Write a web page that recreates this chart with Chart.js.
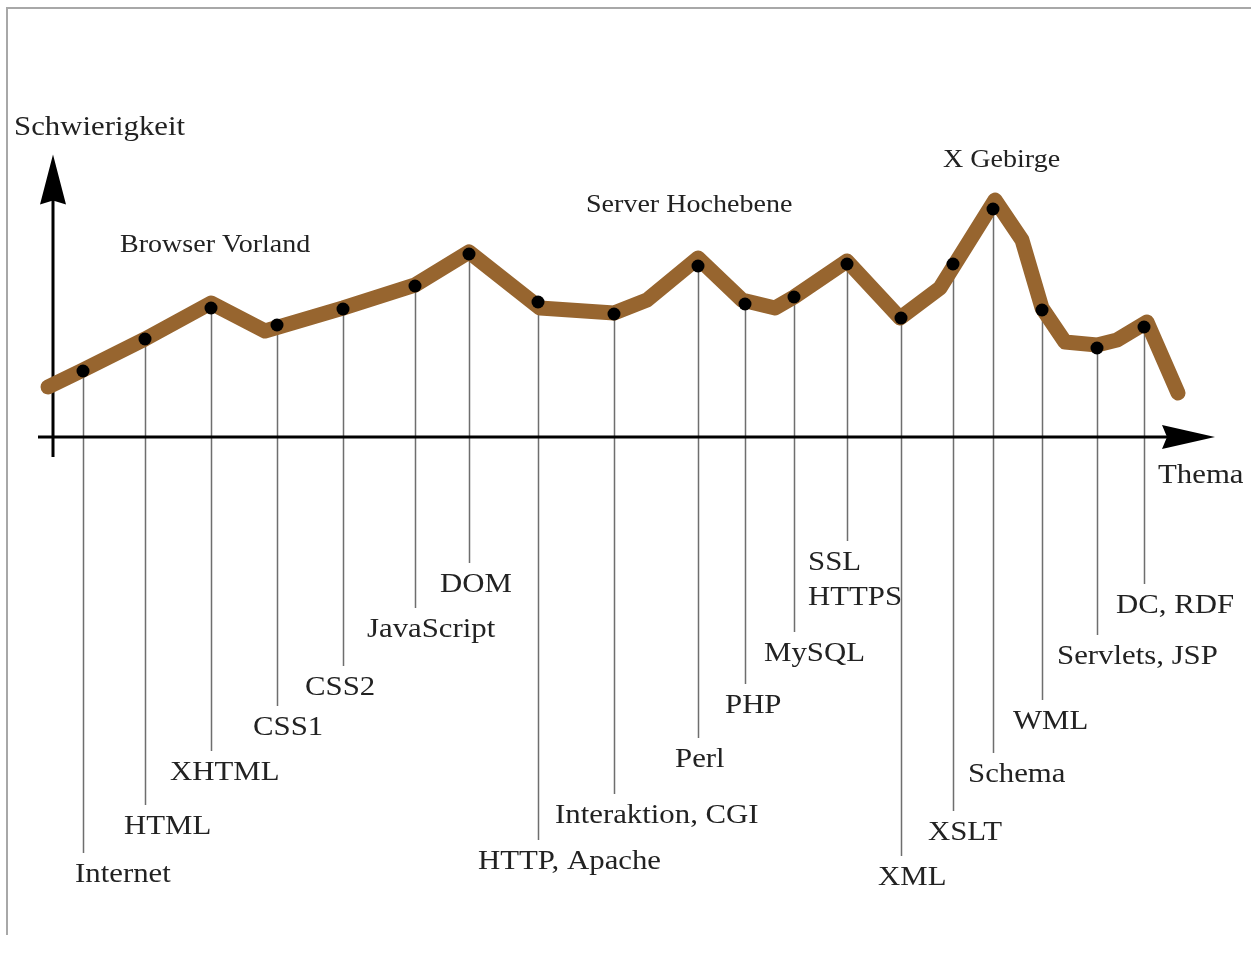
<!DOCTYPE html>
<html>
<head>
<meta charset="utf-8">
<title>Schwierigkeit nach Thema</title>
<script src="https://cdn.jsdelivr.net/npm/chart.js@4.4.0/dist/chart.umd.min.js"></script>
<style>
  html, body { margin: 0; padding: 0; background: #fff; }
  canvas { display: block; }
</style>
</head>
<body>
<canvas id="chart" width="1251" height="957"></canvas>
<script>
// topics along the "Thema" axis, position and difficulty
const topics = ['Internet', 'HTML', 'XHTML', 'CSS1', 'CSS2', 'JavaScript', 'DOM',
    'HTTP, Apache', 'Interaktion, CGI', 'Perl', 'PHP', 'MySQL', 'SSL\nHTTPS',
    'XML', 'XSLT', 'Schema', 'WML', 'Servlets, JSP', 'DC, RDF'];
const topicPos = [3.0, 9.2, 15.8, 22.4, 29.0, 36.2, 41.6, 48.5, 56.1, 64.5, 69.2, 74.1, 79.4,
    84.8, 90.0, 94.0, 98.9, 104.4, 109.1];
const topicLevel = [2.64, 3.92, 5.16, 4.48, 5.12, 6.04, 7.32, 5.4, 4.92, 6.84, 5.32, 5.6, 6.92,
    4.76, 6.92, 9.12, 5.08, 3.56, 4.4];

// the brown "landscape" line, with its bends between topics
const ridgeX = [-0.5, 3.0, 9.2, 15.8, 21.2, 29.0, 36.2, 41.6, 48.7, 56.1, 59.4, 64.5, 68.9, 72.2,
    74.1, 79.4, 84.7, 88.7, 94.2, 96.9, 98.9, 101.2, 104.4, 106.4, 109.4, 112.5];
const ridgeY = [2.0, 2.68, 3.92, 5.36, 4.24, 5.16, 6.08, 7.4, 5.16, 4.96, 5.48, 7.16, 5.48, 5.16,
    5.6, 7.04, 4.76, 5.96, 9.48, 7.88, 5.16, 3.8, 3.68, 3.88, 4.6, 1.76];

// where each topic label hangs below the axis (y units) and its left shift (px)
const labelDepth = [-17.52, -15.6, -13.44, -11.64, -10.04, -7.72, -5.92, -17.0, -15.16, -12.92,
    -10.76, -8.68, -5.04, -17.64, -15.84, -13.52, -11.4, -8.8, -6.76];
const labelShift = [-8, -21, -41, -24, -38, -48, -29, -60, -59, -23, -20, -30, -39, -23, -25, -25,
    -29, -40, -28];

// region names above the line
const regions = ['Browser Vorland', 'Server Hochebene', 'X Gebirge'];
const regionX = [6.7, 53.3, 89.0];
const regionY = [7.68, 9.28, 11.08];

const yTitle = 'Schwierigkeit';
const xTitle = 'Thema';

const SERIF = '"Liberation Serif", "DejaVu Serif", serif';
const TEXT = '#222';

function drawText(ctx, str, x, y, size) {
    ctx.save();
    ctx.translate(x, y);
    ctx.scale(1.1, 1);
    ctx.font = size + 'px ' + SERIF;
    ctx.fillStyle = TEXT;
    ctx.textAlign = 'left';
    ctx.textBaseline = 'middle';
    ctx.fillText(str, 0, 0);
    ctx.restore();
}

const sketchPlugin = {
    id: 'sketch',
    beforeDraw(chart) {
        const ctx = chart.ctx;
        ctx.save();
        ctx.fillStyle = '#fff';
        ctx.fillRect(0, 0, chart.width, chart.height);
        // picture frame (top and left edge)
        ctx.strokeStyle = '#a8a8a8';
        ctx.lineWidth = 2;
        ctx.beginPath();
        ctx.moveTo(chart.width, 8);
        ctx.lineTo(7, 8);
        ctx.lineTo(7, 935);
        ctx.stroke();
        ctx.restore();
    },
    beforeDatasetsDraw(chart) {
        const ctx = chart.ctx;
        const xs = chart.scales.x, ys = chart.scales.y;
        const x0 = xs.getPixelForValue(0), y0 = ys.getPixelForValue(0);
        ctx.save();

        // drop lines from each topic to its label
        ctx.strokeStyle = '#6e6e6e';
        ctx.lineWidth = 1.5;
        topics.forEach((t, i) => {
            const px = Math.round(xs.getPixelForValue(topicPos[i])) + 0.5;
            ctx.beginPath();
            ctx.moveTo(px, ys.getPixelForValue(topicLevel[i]));
            ctx.lineTo(px, ys.getPixelForValue(labelDepth[i]) - 22);
            ctx.stroke();
        });

        // axes with arrow heads
        ctx.strokeStyle = '#000';
        ctx.fillStyle = '#000';
        ctx.lineWidth = 3;
        const xEnd = xs.getPixelForValue(116.2);
        const yEnd = ys.getPixelForValue(11.3);
        ctx.beginPath();
        ctx.moveTo(xs.getPixelForValue(-1.5), y0);
        ctx.lineTo(xEnd - 40, y0);
        ctx.moveTo(x0, ys.getPixelForValue(-0.8));
        ctx.lineTo(x0, yEnd + 40);
        ctx.stroke();
        ctx.beginPath();
        ctx.moveTo(xEnd, y0);
        ctx.lineTo(xEnd - 53, y0 - 12);
        ctx.lineTo(xEnd - 48, y0);
        ctx.lineTo(xEnd - 53, y0 + 12);
        ctx.closePath();
        ctx.fill();
        ctx.beginPath();
        ctx.moveTo(x0, yEnd);
        ctx.lineTo(x0 - 13, yEnd + 50);
        ctx.lineTo(x0, yEnd + 46);
        ctx.lineTo(x0 + 13, yEnd + 50);
        ctx.closePath();
        ctx.fill();
        ctx.restore();

        // texts
        drawText(ctx, yTitle, xs.getPixelForValue(-3.9), ys.getPixelForValue(12.36), 28);
        drawText(ctx, xTitle, xs.getPixelForValue(110.5), ys.getPixelForValue(-1.56), 28);
        regions.forEach((r, i) => {
            drawText(ctx, r, xs.getPixelForValue(regionX[i]), ys.getPixelForValue(regionY[i]), 25.5);
        });
        topics.forEach((t, i) => {
            const lx = xs.getPixelForValue(topicPos[i]) + labelShift[i];
            const ly = ys.getPixelForValue(labelDepth[i]);
            t.split('\n').forEach((line, k) => drawText(ctx, line, lx, ly + k * 35, 28));
        });
    }
};

new Chart(document.getElementById('chart'), {
    type: 'scatter',
    data: {
        datasets: [
            {
                label: 'Themen',
                data: topicPos.map((x, i) => ({ x: x, y: topicLevel[i] })),
                pointRadius: 6.5,
                pointBackgroundColor: '#000',
                pointBorderWidth: 0,
                showLine: false
            },
            {
                label: 'Schwierigkeit',
                data: ridgeX.map((x, i) => ({ x: x, y: ridgeY[i] })),
                showLine: true,
                borderColor: '#97652f',
                borderWidth: 15,
                borderJoinStyle: 'round',
                borderCapStyle: 'round',
                pointRadius: 0,
                tension: 0
            }
        ]
    },
    options: {
        responsive: false,
        animation: false,
        events: [],
        layout: { padding: 0, autoPadding: false },
        plugins: { legend: { display: false }, tooltip: { enabled: false } },
        scales: {
            x: { type: 'linear', min: -5.3, max: 119.8, display: false },
            y: { type: 'linear', min: -20.8, max: 17.48, display: false }
        }
    },
    plugins: [sketchPlugin]
});
</script>
</body>
</html>
